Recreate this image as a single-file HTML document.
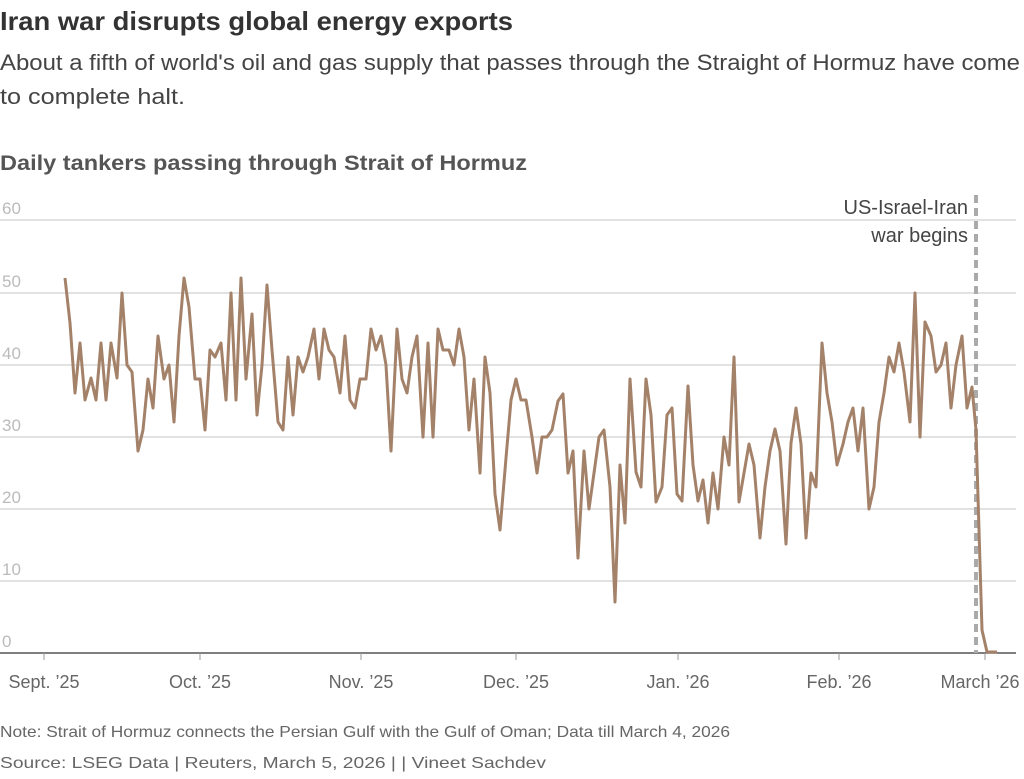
<!DOCTYPE html>
<html><head><meta charset="utf-8"><style>
body{margin:0;width:1024px;height:774px;background:#fff;font-family:"Liberation Sans",sans-serif;overflow:hidden}
</style></head><body>
<svg width="1024" height="774" xmlns="http://www.w3.org/2000/svg" font-family="Liberation Sans, sans-serif">
<text x="0" y="30" font-size="26" font-weight="bold" fill="#333" textLength="513" lengthAdjust="spacingAndGlyphs">Iran war disrupts global energy exports</text>
<text x="0" y="70" font-size="22" fill="#444" textLength="1020" lengthAdjust="spacingAndGlyphs">About a fifth of world's oil and gas supply that passes through the Straight of Hormuz have come</text>
<text x="0" y="104" font-size="22" fill="#444" textLength="185" lengthAdjust="spacingAndGlyphs">to complete halt.</text>
<text x="0" y="170" font-size="21" font-weight="bold" fill="#555" textLength="527" lengthAdjust="spacingAndGlyphs">Daily tankers passing through Strait of Hormuz</text>
<g stroke="#d0d0d0" stroke-width="1.2">
<line x1="0" y1="220" x2="1016" y2="220"/><line x1="0" y1="293" x2="1016" y2="293"/><line x1="0" y1="365" x2="1016" y2="365"/><line x1="0" y1="437" x2="1016" y2="437"/><line x1="0" y1="509" x2="1016" y2="509"/><line x1="0" y1="581" x2="1016" y2="581"/>
</g>
<g font-size="17" fill="#bbb">
<text x="2" y="214">60</text><text x="2" y="287">50</text><text x="2" y="359">40</text><text x="2" y="431">30</text><text x="2" y="503">20</text><text x="2" y="575">10</text><text x="2" y="647">0</text>
</g>
<line x1="0" y1="653" x2="1016" y2="653" stroke="#555" stroke-width="1.5"/>
<g stroke="#999" stroke-width="1">
<line x1="44" y1="653" x2="44" y2="660"/><line x1="200" y1="653" x2="200" y2="660"/><line x1="361" y1="653" x2="361" y2="660"/><line x1="516" y1="653" x2="516" y2="660"/><line x1="678" y1="653" x2="678" y2="660"/><line x1="839" y1="653" x2="839" y2="660"/><line x1="985" y1="653" x2="985" y2="660"/>
</g>
<g font-size="18" fill="#666" text-anchor="middle">
<text x="44" y="688">Sept. ’25</text><text x="200" y="688">Oct. ’25</text><text x="361" y="688">Nov. ’25</text><text x="516" y="688">Dec. ’25</text><text x="678" y="688">Jan. ’26</text><text x="839" y="688">Feb. ’26</text><text x="980" y="688">March ’26</text>
</g>
<line x1="976" y1="195" x2="976" y2="653" stroke="#aaa" stroke-width="4" stroke-dasharray="8,5"/>
<g font-size="20" fill="#444" text-anchor="end">
<text x="968" y="214">US-Israel-Iran</text><text x="968" y="242">war begins</text>
</g>
<polyline fill="none" stroke="#a4826a" stroke-width="3" stroke-linejoin="round" points="65,278 70,323 75,393 80,343 85,400 91,378 96,400 101,343 106,400 111,343 117,378 122,293 127,365 132,372 138,451 143,430 148,379 153,408 158,336 164,379 169,365 174,422 179,336 184,278 189,307 195,379 200,379 205,430 210,350 215,357 221,343 226,400 231,293 236,400 241,278 246,379 252,314 257,415 262,365 267,285 272,350 278,422 283,430 288,357 293,415 298,357 303,372 308,357 314,329 319,379 324,329 329,350 334,357 340,393 345,336 350,400 355,408 360,379 366,379 371,329 376,350 381,336 386,365 391,451 397,329 402,379 407,393 412,357 417,336 423,437 428,343 433,437 438,329 443,350 449,350 454,365 459,329 464,357 469,430 474,379 480,473 485,357 490,393 495,494 500,530 506,458 511,400 516,379 521,400 526,400 532,437 537,473 542,437 547,437 552,430 558,401 563,394 568,473 573,451 578,558 584,451 589,509 594,473 599,437 604,430 610,487 615,602 620,465 625,523 630,379 636,472 641,487 646,379 651,415 656,502 662,487 667,415 672,408 677,494 682,501 688,386 693,465 698,501 703,480 708,523 713,473 718,509 724,437 729,465 734,357 739,502 744,473 749,444 754,465 760,538 765,487 770,451 775,429 780,451 786,544 791,443 796,408 801,444 806,538 811,473 816,487 822,343 827,393 832,422 837,465 843,444 848,422 853,408 858,451 863,408 869,509 874,487 879,422 884,393 889,357 894,372 899,343 904,372 910,422 915,293 920,437 925,322 931,336 936,372 941,365 946,343 951,408 956,365 962,336 967,408 972,387 976,430 982,630 987,652 997,652"/>
<text x="0" y="737" font-size="16" fill="#666" textLength="730" lengthAdjust="spacingAndGlyphs">Note: Strait of Hormuz connects the Persian Gulf with the Gulf of Oman; Data till March 4, 2026</text>
<text x="0" y="768" font-size="16" fill="#666" textLength="546" lengthAdjust="spacingAndGlyphs">Source: LSEG Data | Reuters, March 5, 2026 |  | Vineet Sachdev</text>
</svg>
</body></html>
